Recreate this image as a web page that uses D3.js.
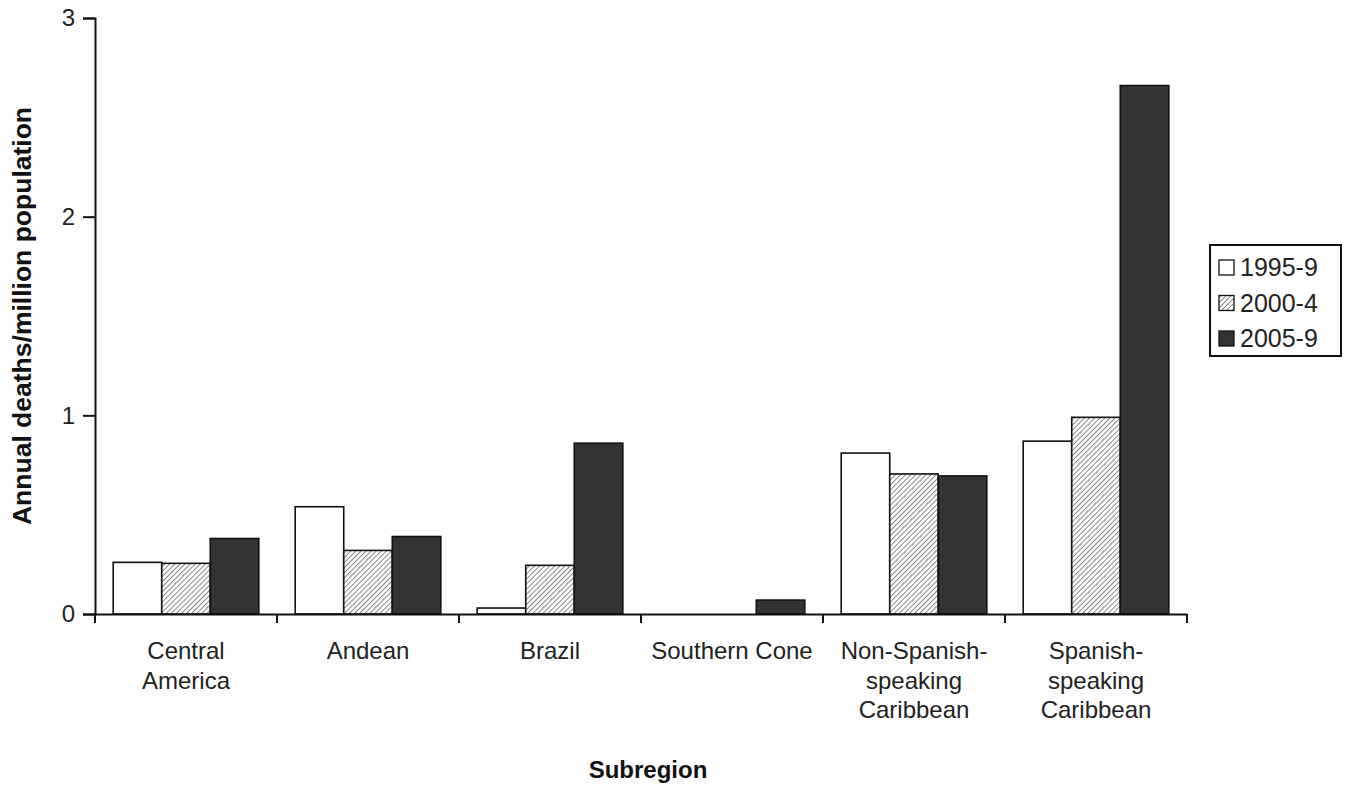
<!DOCTYPE html>
<html><head><meta charset="utf-8">
<script src="https://cdnjs.cloudflare.com/ajax/libs/d3/7.8.5/d3.min.js"></script>
<style>body{margin:0;background:#fff;} text{font-family:"Liberation Sans",Arial,sans-serif;}</style>
</head><body>
<svg id="c" width="1357" height="785"></svg>
<script>
const categories = [["Central","America"],["Andean"],["Brazil"],["Southern Cone"],["Non-Spanish-","speaking","Caribbean"],["Spanish-","speaking","Caribbean"]];
const seriesNames = ["1995-9","2000-4","2005-9"];
const s1995 = [0.26, 0.54, 0.03, 0, 0.81, 0.87];
const s2000 = [0.255, 0.32, 0.245, 0, 0.705, 0.99];
const s2005 = [0.38, 0.39, 0.86, 0.07, 0.695, 2.66];
const yTicks = [0,1,2,3];

const svg = d3.select("#c");
const m = {l:95, r:1187, t:18, b:614};
const x = d3.scaleBand().domain(d3.range(categories.length)).range([m.l, m.r]).paddingInner(0).paddingOuter(0);
const y = d3.scaleLinear().domain([0,3]).range([m.b, m.t]);
const inner = d3.scaleBand().domain(d3.range(3)).range([0, x.bandwidth()]).paddingOuter(0.375).paddingInner(0);

const defs = svg.append("defs");
const pat = defs.append("pattern").attr("id","hatch").attr("patternUnits","userSpaceOnUse")
  .attr("width",3.6).attr("height",3.6).attr("patternTransform","rotate(45)");
pat.append("rect").attr("width",3.6).attr("height",3.6).attr("fill","#fff");
pat.append("line").attr("x1",0).attr("y1",0).attr("x2",0).attr("y2",3.6).attr("stroke","#666").attr("stroke-width",1.5);

const fills = ["#fff","url(#hatch)","#333"];
const data = [s1995, s2000, s2005];

data.forEach((s, si) => {
  svg.append("g").selectAll("rect").data(s).join("rect")
    .attr("x",(d,i)=>x(i)+inner(si))
    .attr("width",inner.bandwidth())
    .attr("y",d=>y(d))
    .attr("height",d=>y(0)-y(d))
    .attr("fill",fills[si])
    .attr("stroke",d=>d>0?"#111":"none")
    .attr("stroke-width",1.6);
});

// Y axis
const ya = svg.append("g").attr("transform",`translate(${m.l},0)`)
  .call(d3.axisLeft(y).tickValues(yTicks).tickFormat(d3.format("d")).tickSize(12).tickPadding(8));
ya.select(".domain").attr("stroke","#111").attr("stroke-width",2);
ya.selectAll(".tick line").attr("stroke","#111").attr("stroke-width",2);
ya.selectAll(".tick text").style("font-size","24px").attr("fill","#222");

// X axis
const xa = svg.append("g").attr("transform",`translate(0,${m.b})`)
  .call(d3.axisBottom(x).tickValues([]).tickSizeOuter(0));
xa.select(".domain").attr("stroke","#111").attr("stroke-width",2);
const edges = d3.range(categories.length+1).map(i => i<categories.length ? x(i) : x(i-1)+x.bandwidth());
xa.selectAll("line.edge").data(edges).join("line").attr("class","edge")
  .attr("x1",d=>d).attr("x2",d=>d).attr("y1",0).attr("y2",9).attr("stroke","#111").attr("stroke-width",2);

// Category labels
const labs = svg.append("g");
categories.forEach((lines,i)=>{
  const cx = x(i)+x.bandwidth()/2;
  const t = labs.append("text").attr("x",cx).attr("y",659)
    .attr("text-anchor","middle").style("font-size","24px").attr("fill","#222");
  lines.forEach((ln,j)=>t.append("tspan").attr("x",cx).attr("dy",j===0?0:29.5).text(ln));
});

// Axis titles
svg.append("text").attr("transform",`translate(31,${(m.t+m.b)/2}) rotate(-90)`)
  .attr("text-anchor","middle").style("font-size","26.5px").attr("font-weight","bold").attr("fill","#111")
  .text("Annual deaths/million population");
svg.append("text").attr("x",648).attr("y",778).attr("text-anchor","middle")
  .style("font-size","24px").attr("font-weight","bold").attr("fill","#111").text("Subregion");

// Legend
const lg = svg.append("g").attr("transform","translate(1210,245)");
lg.append("rect").attr("width",131).attr("height",111).attr("fill","#fff").attr("stroke","#111").attr("stroke-width",2);
seriesNames.forEach((n,i)=>{
  const yy = 22 + i*35.5;
  lg.append("rect").attr("x",9).attr("y",yy-7).attr("width",15).attr("height",15)
    .attr("fill",fills[i]).attr("stroke","#111").attr("stroke-width",1.3);
  lg.append("text").attr("x",30).attr("y",yy+9).style("font-size","25px").attr("fill","#222").text(n);
});
</script>
</body></html>
